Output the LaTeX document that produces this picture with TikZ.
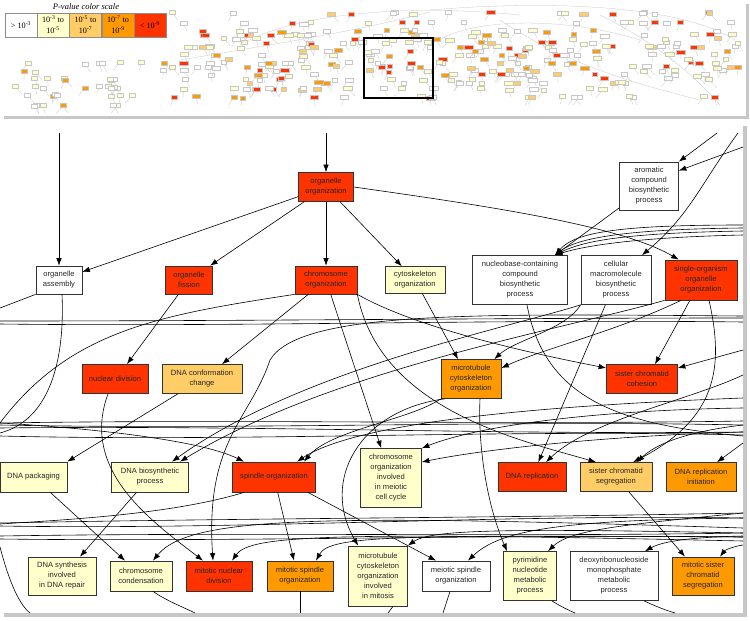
\documentclass[tikz,border=0pt]{standalone}
\usepackage{fontspec}
\setsansfont{Liberation Sans}
\newfontfamily\legfont{Liberation Serif}
\usetikzlibrary{arrows.meta,calc}
\definecolor{pyellow}{HTML}{FFFFCC}
\definecolor{plight}{HTML}{FFCC66}
\definecolor{porange}{HTML}{FF9900}
\definecolor{pred}{HTML}{FF3300}
\begin{document}
\begin{tikzpicture}[x=1pt,y=-1pt]
  \tikzstyle{box}=[draw=black!80, text=black!85, line width=0.7pt, inner sep=1pt, align=center, font=\sffamily\fontsize{7.6}{10}\selectfont]
  \tikzstyle{pnone}=[box, fill=white]
  \tikzstyle{pweak}=[box, fill=pyellow]
  \tikzstyle{pmid}=[box, fill=plight]
  \tikzstyle{pstrong}=[box, fill=porange]
  \tikzstyle{ptop}=[box, fill=pred]
  \tikzstyle{dep}=[draw=black, line width=0.6pt, >={Latex[length=7.5pt,width=5.5pt]}]
  \tikzstyle{bundle}=[draw=black, line width=0.6pt]
  \tikzstyle{thumb}=[draw=black!22, line width=0.3pt]
  \tikzstyle{legbox}=[draw=black!45, minimum width=32pt, minimum height=24pt, inner sep=0pt, align=center, font=\legfont\fontsize{8.2}{11}\selectfont]
  \tikzstyle{panel}=[fill=white]
  \tikzstyle{dropshadow}=[fill=black!22]
  \def\rgt{743}

  \useasboundingbox (0,0) rectangle (750,621);
  \fill [white] (0,0) rectangle (750,621);

  % overview panel
  \fill [dropshadow] (4,4) rectangle (749,119);
  \fill [panel] (0,0) rectangle (746,116);
  \draw [thumb] (240,45) .. controls (300,10) and (420,5) .. (520,15);
  \draw [thumb] (430,10) .. controls (550,0) and (680,5) .. (735,40);
  \draw [thumb] (500,20) .. controls (560,60) and (620,80) .. (700,100);
  \draw [thumb] (180,60) .. controls (300,40) and (360,30) .. (430,12);
  \draw [thumb] (600,15) .. controls (650,40) and (690,70) .. (720,105);
  \draw [thumb] (440,40) .. controls (470,20) and (560,15) .. (640,40);
  \pgfmathsetseed{7}
  \foreach \i in {1,...,330} {
    \pgfmathsetmacro{\tx}{172+566*rnd}
    \pgfmathrandominteger{\tr}{0}{18}
    \pgfmathsetmacro{\ty}{{12,22,30,34,38,42,46,46,50,54,58,62,66,70,74,78,82,88,96}[\tr]+2*rnd}
    \pgfmathrandominteger{\tc}{1}{20}
    \pgfmathsetmacro{\tw}{2.5+2*rnd}
    \ifnum\tc<8 \def\tcol{white}\else\ifnum\tc<14 \def\tcol{pyellow}\else\ifnum\tc<16 \def\tcol{plight}\else\ifnum\tc<18 \def\tcol{porange}\else\def\tcol{pred}\fi\fi\fi\fi
    \draw [thumb] (\tx,\ty) -- ++(16*rnd-8,8);
    \draw [thumb, fill=\tcol] (\tx-\tw,\ty-2) rectangle (\tx+\tw,\ty+2);
  }
  \foreach \i in {1,...,40} {
    \pgfmathsetmacro{\tx}{8+158*rnd}
    \pgfmathrandominteger{\tr}{0}{5}
    \pgfmathsetmacro{\ty}{{62,70,78,86,94,104}[\tr]+2*rnd}
    \pgfmathrandominteger{\tc}{1}{10}
    \ifnum\tc<5 \def\tcol{white}\else\ifnum\tc<9 \def\tcol{pyellow}\else\def\tcol{porange}\fi\fi
    \draw [thumb] (\tx,\ty) -- ++(16*rnd-8,8);
    \draw [thumb, fill=\tcol] (\tx-3,\ty-2) rectangle (\tx+3,\ty+2);
  }
  \draw [line width=2.4pt] (364,38) rectangle (433,98);

  % legend
  \node [font=\legfont\itshape\fontsize{8.5}{10}\selectfont] (legtitle) at (86,7) {P-value color scale};
  \node [legbox, fill=white] (lg1) at (21,25) {> 10\textsuperscript{-3}};
  \node [legbox, fill=pyellow] (lg2) at (53,25) {10\textsuperscript{-3} to\\10\textsuperscript{-5}};
  \node [legbox, fill=plight] (lg3) at (85.5,25) {10\textsuperscript{-5} to\\10\textsuperscript{-7}};
  \node [legbox, fill=porange] (lg4) at (118,25) {10\textsuperscript{-7} to\\10\textsuperscript{-9}};
  \node [legbox, fill=pred] (lg5) at (150,25) {< 10\textsuperscript{-9}};

  % detail panel
  \fill [dropshadow] (4,126) rectangle (747,617);
  \fill [panel] (0,122) rectangle (743,613);

  \node [ptop, minimum width=55pt, minimum height=29pt] (OrgOrg) at (326,187) {organelle\\organization};
  \node [pnone, minimum width=59pt, minimum height=48pt] (AroBio) at (649,186) {aromatic\\compound\\biosynthetic\\process};
  \node [pnone, minimum width=46pt, minimum height=28pt] (OrgAsm) at (59,280) {organelle\\assembly};
  \node [ptop, minimum width=47pt, minimum height=28pt] (OrgFis) at (189,280) {organelle\\fission};
  \node [ptop, minimum width=62pt, minimum height=28pt] (ChrOrg) at (326,280) {chromosome\\organization};
  \node [pweak, minimum width=60pt, minimum height=27pt] (CskOrg) at (415,280) {cytoskeleton\\organization};
  \node [pnone, minimum width=95pt, minimum height=49pt] (NbcBio) at (520,280) {nucleobase-containing\\compound\\biosynthetic\\process};
  \node [pnone, minimum width=70pt, minimum height=49pt] (CmmBio) at (616,280) {cellular\\macromolecule\\biosynthetic\\process};
  \node [ptop, minimum width=72pt, minimum height=40pt] (SooOrg) at (701,280) {single-organism\\organelle\\organization};
  \node [ptop, minimum width=66pt, minimum height=29pt] (NucDiv) at (115,379) {nuclear division};
  \node [pmid, minimum width=80pt, minimum height=29pt] (DnaCnf) at (202,379) {DNA conformation\\change};
  \node [pstrong, minimum width=60pt, minimum height=39pt] (MtcOrg) at (471,379) {microtubule\\cytoskeleton\\organization};
  \node [ptop, minimum width=71pt, minimum height=29pt] (SceCoh) at (642,379) {sister chromatid\\cohesion};
  \node [pweak, minimum width=67pt, minimum height=30pt] (DnaPkg) at (33.5,477) {DNA packaging};
  \node [pweak, minimum width=77pt, minimum height=30pt] (DnaBio) at (150,477) {DNA biosynthetic\\process};
  \node [ptop, minimum width=83pt, minimum height=30pt] (SpnOrg) at (274,477) {spindle organization};
  \node [pweak, minimum width=61pt, minimum height=59pt] (ChrMei) at (391,478) {chromosome\\organization\\involved\\in meiotic\\cell cycle};
  \node [ptop, minimum width=68pt, minimum height=29pt] (DnaRep) at (532,477) {DNA replication};
  \node [pmid, minimum width=72pt, minimum height=29pt] (SceSeg) at (616,477) {sister chromatid\\segregation};
  \node [pstrong, minimum width=70pt, minimum height=29pt] (DnaIni) at (701,477) {DNA replication\\initiation};
  \node [pweak, minimum width=68pt, minimum height=38pt] (DnaSyn) at (62,576) {DNA synthesis\\involved\\in DNA repair};
  \node [pweak, minimum width=62pt, minimum height=30pt] (ChrCon) at (141,576) {chromosome\\condensation};
  \node [ptop, minimum width=66pt, minimum height=30pt] (MitNuc) at (219,576) {mitotic nuclear\\division};
  \node [pstrong, minimum width=66pt, minimum height=30pt] (MitSpn) at (300,576) {mitotic spindle\\organization};
  \node [pweak, minimum width=59pt, minimum height=60pt] (MtcMit) at (378,576) {microtubule\\cytoskeleton\\organization\\involved\\in mitosis};
  \node [pnone, minimum width=68pt, minimum height=30pt] (MeiSpn) at (456,576) {meiotic spindle\\organization};
  \node [pweak, minimum width=53pt, minimum height=49pt] (PyrMet) at (530,576) {pyrimidine\\nucleotide\\metabolic\\process};
  \node [pnone, minimum width=88pt, minimum height=49pt] (DmpMet) at (614,576) {deoxyribonucleoside\\monophosphate\\metabolic\\process};
  \node [pstrong, minimum width=62pt, minimum height=38pt] (MitSce) at (703,576) {mitotic sister\\chromatid\\segregation};

  % free ends on the frame
  \coordinate (T1) at (59,133);
  \coordinate (T2) at (326,133);
  \coordinate (T3) at (717,133);
  \coordinate (T4) at (738,133);
  \coordinate (R0) at (\rgt,147);
  \foreach \n/\y in {R1/225,R2/228,R3/231,R4/235,R5/316,R7/350,R8/375,R9/398,R10/408,R12/425,R13/432,R14/436,R15/443,R16/513,R17/518,R18/528,R19/533,R20/537,R21/541,R22/545,R23/536}
    \coordinate (\n) at (\rgt,\y);
  \foreach \n/\y in {L1/308,L5/423,L7/433,L9/524,L13/547}
    \coordinate (\n) at (0,\y);
  \foreach \n/\x in {B1/195,B2/300,B3/388,B4/443,B5/575,B6/675,B7/30}
    \coordinate (\n) at (\x,613);

  % long bundles across the panel
  \foreach \n/\a/\b/\c in {h1/321/318/0,h2/324/322/3,h3/423/421/-4,h4/425/425/5,h5/428/432/-3,h6/436/435/6,h7/523/513/-5,h8/526/518/4,h9/536/533/-4,h10/539/537/3} {
    \coordinate (l\n) at (0,\a);
    \coordinate (r\n) at (\rgt,\b);
    \draw [bundle] (l\n) .. controls (250,\a+\c) and (500,\b-\c) .. (r\n);
  }

  % upper rows
  \draw [dep,->] (T1) -- (OrgAsm);
  \draw [dep,->] (T2) -- (OrgOrg);
  \draw [dep,->] (OrgOrg) -- (OrgAsm);
  \draw [dep,->] (OrgOrg) -- (OrgFis);
  \draw [dep,->] (OrgOrg) -- (ChrOrg);
  \draw [dep,->] (OrgOrg) -- (CskOrg);
  \draw [dep,->] (OrgOrg.east) .. controls (480,205) and (620,225) .. ($(SooOrg.north west)+(14,0)$);
  \draw [dep,->] (T3) -- (AroBio.north east);
  \draw [dep,->] (R0) -- ($(AroBio.north east)+(0,9)$);
  \draw [dep,->] (T4) .. controls (700,185) and (690,215) .. ($(CmmBio.north)+(26,0)$);
  \draw [dep,->] (AroBio) -- ($(NbcBio.north)+(35,0)$);
  \draw [dep,->] (R1) .. controls (620,225) and (575,232) .. ($(NbcBio.north)+(35,0)$);
  \draw [dep,->] (R2) .. controls (640,229) and (580,236) .. ($(NbcBio.north)+(35,0)$);
  \draw [dep,->] (R3) .. controls (630,233) and (585,240) .. ($(NbcBio.north)+(35,0)$);
  \draw [dep,->] (R4) .. controls (650,237) and (590,244) .. ($(NbcBio.north)+(35,0)$);
  \draw [dep] (OrgAsm.south west) -- (L1);
  \draw [dep] ($(OrgAsm.south)+(3,0)$) .. controls (65,360) and (50,420) .. (L7);
  \draw [dep] (ChrOrg.south west) .. controls (160,315) and (70,330) .. (L5);

  % middle rows
  \draw [dep,->] (OrgFis) -- ($(NucDiv.north)+(12,0)$);
  \draw [dep,->] (ChrOrg) -- ($(DnaCnf.north)+(20,0)$);
  \draw [dep,->] (CskOrg) -- ($(MtcOrg.north)+(-13,0)$);
  \draw [dep,->] (CmmBio.south west) .. controls (565,330) and (515,340) .. ($(MtcOrg.north east)+(-7,0)$);
  \draw [dep,->] ($(SooOrg.south)+(-20,0)$) .. controls (620,330) and (540,350) .. ($(MtcOrg.east)+(0,-11)$);
  \draw [dep,->] (SooOrg) -- ($(SceCoh.north)+(13,0)$);
  \draw [dep,->] (R7) -- ($(SceCoh.east)+(0,-11)$);
  \draw [dep,->] (ChrOrg.south east) .. controls (420,330) and (540,355) .. ($(SceCoh.west)+(0,-11)$);
  \draw [dep] ($(NbcBio.south)+(7,0)$) .. controls (545,400) and (620,425) .. (R14);

  % into the third row
  \draw [dep,->] (DnaCnf) -- (DnaPkg.north east);
  \draw [dep,->] (ChrOrg) -- (ChrMei);
  \draw [dep,->] ($(NucDiv.south)+(-7,0)$) .. controls (80,470) and (150,520) .. ($(MitNuc.north)+(-16,0)$);
  \draw [dep,->] (L5) .. controls (90,428) and (200,440) .. ($(SpnOrg.north)+(-30,0)$);
  \draw [dep,->] (MtcOrg.south west) .. controls (410,420) and (330,430) .. ($(SpnOrg.north)+(30,0)$);
  \draw [dep,->] (R9) .. controls (560,405) and (360,420) .. ($(SpnOrg.north)+(23,0)$);
  \draw [dep,->] (CmmBio.south west) .. controls (500,330) and (300,370) .. ($(DnaBio.north)+(22,0)$);
  \draw [dep,->] (SooOrg.south west) .. controls (560,330) and (330,370) .. ($(DnaBio.north)+(30,0)$);
  \draw [dep,->] (R5) .. controls (480,314) and (300,310) .. (270,360) .. controls (250,420) and (205,440) .. ($(MitNuc.north)+(-6,0)$);
  \draw [dep,->] (R10) .. controls (600,410) and (480,425) .. (ChrMei.north east);
  \draw [dep,->] (R13) .. controls (600,436) and (480,450) .. ($(ChrMei.east)+(0,-16)$);
  \draw [dep,->] (CmmBio) -- (DnaRep);
  \draw [dep,->] (R8) .. controls (690,400) and (590,420) .. ($(DnaRep.north)+(14,0)$);
  \draw [dep,->] (ChrOrg.south east) .. controls (380,410) and (520,440) .. ($(SceSeg.north)+(-20,0)$);
  \draw [dep,->] ($(SooOrg.south)+(8,0)$) .. controls (725,370) and (715,420) .. ($(SceSeg.north)+(17,0)$);
  \draw [dep,->] (R12) .. controls (700,430) and (660,440) .. ($(SceSeg.north)+(21,0)$);
  \draw [dep,->] (R15) -- ($(DnaIni.north)+(16,0)$);

  % into the bottom row
  \draw [dep,->] (DnaPkg) -- ($(ChrCon.north)+(-16,0)$);
  \draw [dep,->] (DnaBio) -- ($(DnaSyn.north)+(18,0)$);
  \draw [dep,->] (SpnOrg) -- ($(MitSpn.north)+(-6,0)$);
  \draw [dep,->] ($(SpnOrg.south east)+(-8,0)$) -- ($(MeiSpn.north)+(-20,0)$);
  \draw [dep] ($(SpnOrg.south west)+(12,0)$) .. controls (170,515) and (60,520) .. (L9);
  \draw [dep,->] ($(MtcOrg.south west)+(4,0)$) .. controls (360,410) and (320,480) .. ($(MtcMit.north west)+(10,0)$);
  \draw [dep,->] (R18) .. controls (330,515) and (190,515) .. ($(ChrCon.north)+(12,0)$);
  \draw [dep,->] (R21) .. controls (330,532) and (250,535) .. ($(MitNuc.north)+(13,0)$);
  \draw [dep,->] (R20) .. controls (400,535) and (330,535) .. ($(MitSpn.north)+(16,0)$);
  \draw [dep,->] (R19) .. controls (500,528) and (430,530) .. (MtcMit.north east);
  \draw [dep,->] (R17) .. controls (560,520) and (500,530) .. ($(MeiSpn.north)+(12,0)$);
  \draw [dep,->] ($(MtcOrg.south)+(9,0)$) .. controls (478,440) and (485,500) .. ($(PyrMet.north)+(-23,0)$);
  \draw [dep,->] (R16) .. controls (620,525) and (570,530) .. ($(PyrMet.north)+(18,0)$);
  \draw [dep,->] (R23) .. controls (700,537) and (665,540) .. ($(DmpMet.north)+(31,0)$);
  \draw [dep,->] (SceSeg) -- ($(MitSce.north)+(-18,0)$);
  \draw [dep,->] (R22) .. controls (735,546) and (725,550) .. ($(MitSce.north)+(17,0)$);

  % leaving through the bottom
  \draw [dep] ($(ChrCon.south)+(12,0)$) .. controls (165,600) and (185,608) .. (B1);
  \draw [dep] (MitSpn) -- (B2);
  \draw [dep] ($(MtcMit.south)+(15,0)$) -- (B3);
  \draw [dep] ($(MeiSpn.south)+(-6,0)$) -- (B4);
  \draw [dep] ($(PyrMet.south east)+(-5,0)$) .. controls (560,606) and (568,610) .. (B5);
  \draw [dep] ($(DmpMet.south)+(30,0)$) .. controls (655,606) and (665,610) .. (B6);
  \draw [dep] (L13) .. controls (10,585) and (20,605) .. (B7);
\end{tikzpicture}
\end{document}
